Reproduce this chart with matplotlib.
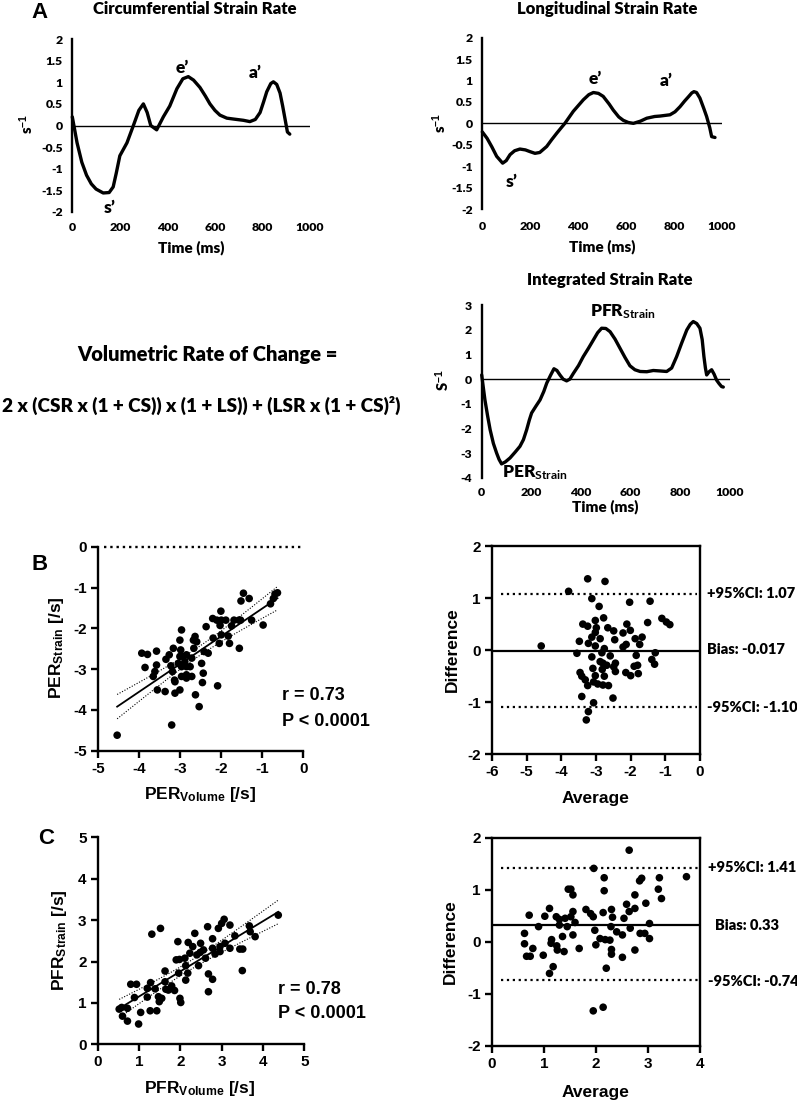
import numpy as np
import matplotlib
matplotlib.use('Agg')
import matplotlib.pyplot as plt

# ---------------- data ----------------
time_ticks = [0, 200, 400, 600, 800, 1000]

csr_t = [0, 10, 20, 40, 60, 80, 100, 130, 155, 172, 185, 200, 215, 230, 257, 280, 299, 315, 330, 355,
         383, 410, 440, 465, 488, 510, 537, 560, 579, 600, 621, 650, 677, 720, 747, 770, 790, 805, 818,
         835, 846, 860, 874, 885, 895, 905, 915]
csr_v = [0.2, -0.1, -0.4, -0.85, -1.15, -1.35, -1.47, -1.56, -1.55, -1.42, -1.1, -0.7, -0.55, -0.4, 0.0,
         0.35, 0.5, 0.3, 0.0, -0.1, 0.2, 0.45, 0.85, 1.08, 1.13, 1.05, 0.88, 0.68, 0.5, 0.35, 0.24, 0.17,
         0.15, 0.12, 0.09, 0.14, 0.3, 0.55, 0.78, 0.97, 1.01, 0.95, 0.75, 0.45, 0.15, -0.15, -0.2]

lsr_t = [0, 20, 40, 60, 85, 100, 116, 135, 157, 180, 199, 220, 240, 269, 290, 311, 330, 345, 380, 422,
         445, 464, 485, 505, 530, 547, 570, 589, 610, 631, 660, 687, 720, 742, 784, 805, 826, 845, 861,
         875, 884, 895, 909, 925, 937, 950, 958, 972]
lsr_v = [-0.2, -0.35, -0.55, -0.77, -0.93, -0.87, -0.73, -0.64, -0.6, -0.62, -0.66, -0.7, -0.68, -0.54,
         -0.38, -0.23, -0.1, 0.0, 0.28, 0.55, 0.67, 0.72, 0.7, 0.63, 0.45, 0.31, 0.15, 0.07, 0.02, 0.0,
         0.05, 0.12, 0.16, 0.17, 0.2, 0.27, 0.39, 0.52, 0.62, 0.71, 0.74, 0.72, 0.59, 0.35, 0.16, -0.1,
         -0.31, -0.33]

isr_t = [0, 6, 13, 24, 34, 47, 60, 70, 80, 95, 114, 135, 154, 168, 181, 192, 201, 218, 235, 250, 262,
         277, 291, 303, 315, 328, 342, 355, 369, 390, 409, 430, 450, 467, 483, 500, 517, 537, 557, 577,
         597, 617, 638, 665, 691, 720, 745, 765, 785, 805, 826, 840, 852, 866, 879, 888, 895, 901, 906,
         916, 926, 936, 946, 956, 966, 973]
isr_v = [0.17, -0.3, -0.84, -1.5, -2.05, -2.6, -2.99, -3.25, -3.43, -3.35, -3.19, -2.95, -2.72, -2.45,
         -2.05, -1.65, -1.37, -1.1, -0.84, -0.5, -0.16, 0.15, 0.42, 0.35, 0.17, 0.0, -0.07, 0.0, 0.23,
         0.55, 0.91, 1.25, 1.59, 1.88, 2.06, 2.05, 1.92, 1.62, 1.25, 0.88, 0.54, 0.38, 0.31, 0.3, 0.35,
         0.33, 0.31, 0.45, 0.91, 1.45, 1.99, 2.22, 2.33, 2.25, 2.06, 1.6, 0.91, 0.45, 0.17, 0.3, 0.38,
         0.2, -0.04, -0.18, -0.3, -0.32]

per_vol = [-3.94, -3.80, -3.86, -3.58, -3.58, -3.62, -3.66, -3.56, -3.37, -3.35, -3.27, -3.23, -3.17,
           -3.19, -3.13, -3.13, -3.01, -2.97, -3.01, -2.99, -3.01, -3.05, -2.93, -2.85, -2.89, -2.85,
           -2.97, -2.97, -2.85, -2.85, -2.72, -2.76, -2.72, -2.67, -2.68, -2.64, -2.60, -2.48, -2.44,
           -2.46, -2.42, -2.37, -2.32, -2.20, -2.09, -2.63, -2.54, -2.21, -2.11, -2.01, -2.00, -1.89,
           -2.03, -2.00, -2.05, -1.83, -1.80, -1.75, -1.69, -1.57, -1.56, -1.53, -1.46, -1.52, -1.32,
           -1.26, -0.98, -0.80, -0.73, -0.69, -0.63, -3.21, -4.54, -3.14]
per_str = [-2.61, -2.64, -2.96, -2.56, -2.90, -3.06, -3.18, -3.51, -3.55, -2.76, -2.65, -2.92, -2.49,
           -3.06, -3.31, -3.59, -3.51, -2.04, -2.29, -2.53, -2.69, -2.86, -2.69, -2.65, -2.82, -2.94,
           -2.94, -3.18, -3.14, -3.22, -3.18, -2.94, -2.73, -2.49, -2.29, -2.20, -2.33, -2.86, -3.10,
           -3.33, -2.57, -1.96, -2.61, -2.24, -3.41, -3.63, -3.92, -1.76, -1.80, -1.58, -1.80, -1.80,
           -1.93, -2.16, -2.37, -2.19, -2.37, -1.94, -1.80, -1.80, -2.49, -1.80, -1.14, -1.33, -1.27,
           -1.80, -1.92, -1.40, -1.27, -1.16, -1.13, -4.37, -4.62, -3.27]

per_avg = [-4.58, -3.79, -3.24, -2.74, -3.12, -2.91, -2.03, -1.44, -1.10, -0.97, -0.87, -1.51, -2.78,
           -3.38, -3.24, -2.99, -3.02, -2.66, -2.49, -2.11, -2.01, -2.22, -2.46, -2.88, -3.48, -3.22,
           -3.02, -2.76, -2.22, -2.13, -1.87, -1.74, -1.67, -3.55, -2.83, -3.12, -2.59, -1.84, -1.29,
           -1.39, -1.31, -2.88, -2.80, -2.69, -2.44, -2.49, -1.90, -1.80, -3.09, -2.82, -2.44, -2.14,
           -2.00, -1.78, -3.46, -3.41, -3.31, -3.24, -3.02, -3.07, -2.95, -2.80, -2.64, -2.76, -3.41,
           -2.51, -3.07, -3.22, -3.28, -3.02, -3.12]
per_diff = [0.08, 1.13, 1.37, 1.32, 0.99, 0.84, 0.92, 0.94, 0.61, 0.54, 0.49, 0.53, 0.62, 0.50, 0.46,
            0.43, 0.34, 0.43, 0.37, 0.50, 0.38, 0.33, 0.20, 0.22, 0.17, 0.13, 0.08, 0.03, 0.06, 0.11,
            0.22, 0.11, 0.25, -0.06, -0.05, -0.13, -0.11, -0.10, -0.05, -0.18, -0.27, -0.22, -0.25,
            -0.29, -0.25, -0.32, -0.31, -0.29, -0.35, -0.37, -0.41, -0.43, -0.49, -0.45, -0.43, -0.50,
            -0.57, -0.68, -0.49, -0.61, -0.65, -0.67, -0.68, -0.50, -0.89, -0.92, -1.01, -1.18, -1.34,
            0.57, 0.25]

pfr_vol = [0.52, 0.60, 0.72, 0.72, 0.58, 0.80, 0.94, 0.89, 0.99, 1.04, 1.20, 1.20, 1.28, 1.31, 1.52,
           1.27, 1.43, 1.39, 1.47, 1.49, 1.55, 1.63, 1.63, 1.71, 1.79, 1.65, 1.86, 1.94, 1.98, 1.99,
           2.01, 2.11, 2.13, 2.13, 2.19, 2.18, 2.23, 2.30, 2.35, 2.40, 2.44, 2.49, 2.56, 2.61, 2.66,
           2.68, 2.68, 2.78, 2.78, 2.78, 2.92, 3.00, 3.06, 2.96, 2.96, 3.08, 3.20, 3.20, 3.32, 3.44,
           3.51, 3.50, 3.67, 3.69, 3.81, 4.37, 1.90, 1.96, 2.48, 2.84]
pfr_str = [0.85, 0.68, 0.56, 0.87, 0.89, 1.45, 1.45, 1.13, 0.49, 0.77, 1.14, 1.35, 1.49, 2.66, 2.80,
           0.81, 0.81, 1.34, 1.15, 1.03, 1.11, 1.77, 1.51, 1.31, 1.41, 1.33, 1.30, 2.48, 2.05, 1.11,
           1.01, 2.08, 1.90, 1.55, 2.46, 1.72, 2.20, 2.36, 2.68, 2.16, 1.90, 2.44, 2.28, 2.08, 2.84,
           1.70, 1.27, 1.57, 2.55, 2.32, 2.80, 2.92, 3.02, 2.36, 2.24, 2.44, 2.88, 2.32, 2.62, 2.30,
           2.30, 1.78, 2.86, 2.72, 2.60, 3.12, 2.04, 1.72, 2.22, 2.18]

pfr_avg = [0.63, 0.63, 0.72, 0.67, 0.74, 0.79, 0.90, 0.99, 1.02, 1.11, 1.11, 1.18, 1.15, 1.14, 1.24,
           1.25, 1.26, 1.30, 1.30, 1.36, 1.39, 1.41, 1.45, 1.47, 1.52, 1.56, 1.52, 1.56, 1.56, 1.60,
           1.68, 1.81, 1.90, 1.95, 1.96, 1.98, 2.00, 1.95, 2.08, 2.14, 2.16, 2.16, 2.18, 2.20, 2.14,
           2.27, 2.29, 2.30, 2.32, 2.30, 2.30, 2.40, 2.51, 2.51, 2.54, 2.59, 2.64, 2.64, 2.66, 2.75,
           2.75, 2.75, 2.84, 2.88, 2.85, 2.94, 2.96, 3.03, 3.03, 3.20, 3.22, 3.26, 3.74]
pfr_diff = [0.16, -0.04, 0.51, -0.28, -0.28, -0.13, 0.29, -0.26, 0.49, 0.64, -0.61, -0.48, 0.04, -0.03,
            0.48, -0.08, -0.16, 0.43, 0.32, 0.10, -0.19, 0.45, 0.29, 1.01, 1.01, 0.90, 0.48, 0.58, 0.13,
            0.37, -0.13, 0.62, 0.54, 0.48, 1.41, 0.22, -0.06, -1.33, 0.06, 0.56, 0.98, 1.23, 0.04,
            -0.51, -1.26, 0.03, 0.29, 0.62, 0.47, -0.15, -0.24, 0.19, 0.13, -0.30, 0.45, 0.72, 1.76,
            0.58, 0.26, 0.64, 0.90, -0.16, 1.17, 1.22, 0.16, 0.16, 0.74, 0.35, 0.06, 1.01, 1.23, 0.83,
            1.25]

per_stats = {'r': '0.73', 'p': '0.0001', 'bias': -0.017, 'hi': 1.07, 'lo': -1.10}
pfr_stats = {'r': '0.78', 'p': '0.0001', 'bias': 0.33, 'hi': 1.41, 'lo': -0.74}

# ---------------- setup ----------------
W, H = 797, 1101
plt.rcParams.update({
    'font.family': ['Liberation Sans', 'DejaVu Sans'],
    'font.weight': 'bold',
    'axes.unicode_minus': False,
    'mathtext.fontset': 'custom',
    'mathtext.rm': 'Liberation Sans:bold',
    'mathtext.bf': 'Liberation Sans:bold',
    'mathtext.it': 'Lato:bold',
    'mathtext.default': 'rm',
})
fig = plt.figure(figsize=(W / 100, H / 100), dpi=100)
EX = ['Lato', 'DejaVu Sans']
TK = 8.8      # excel tick size
TT = 12       # excel title size


def rect(l, t, r, b):
    return [l / W, 1 - b / H, (r - l) / W, (b - t) / H]


def ftxt(x, y, s, **kw):
    kw.setdefault('ha', 'center')
    kw.setdefault('va', 'center')
    fig.text(x / W, 1 - y / H, s, **kw)


def excel_axes(r, ylim, yticks, t, v, xpad, ypad):
    ax = fig.add_axes(r)
    ax.plot(t, v, color='black', lw=2.4, solid_joinstyle='round', solid_capstyle='round', clip_on=False,
            zorder=3)
    ax.axhline(0, color='black', lw=1.0, zorder=2)
    ax.set_xlim(0, 1000)
    ax.set_ylim(*ylim)
    for s in ['top', 'right', 'bottom']:
        ax.spines[s].set_visible(False)
    ax.spines['left'].set_linewidth(1.7)
    ax.set_xticks(time_ticks)
    ax.set_xticklabels([str(x) for x in time_ticks], fontfamily=EX, fontweight='heavy', fontsize=TK)
    ax.set_yticks(yticks)
    ax.set_yticklabels(['%g' % y for y in yticks], fontfamily=EX, fontweight='heavy', fontsize=TK)
    ax.tick_params(axis='x', length=0, pad=xpad)
    ax.tick_params(axis='y', length=0, pad=ypad)
    ax.patch.set_visible(False)
    return ax


LK = dict(fontfamily=EX, fontweight='heavy', fontsize=12.5, ha='center', va='center')

# Panel A: circumferential
ax1 = excel_axes(rect(72.3, 39, 310, 212), (-2, 2), [-2, -1.5, -1, -0.5, 0, 0.5, 1, 1.5, 2],
                 csr_t, csr_v, 7.5, 7)
ax1.text(158, -1.9, 's\u2019', **LK)
ax1.text(464, 1.34, 'e\u2019', **LK)
ax1.text(768, 1.22, 'a\u2019', **LK)
ftxt(195, 9, 'Circumferential Strain Rate', fontfamily=EX, fontweight='heavy', fontsize=TT)
ftxt(27, 124, 's$^{\\mathit{-1}}$', fontfamily=EX, fontweight='heavy', fontsize=10.5, rotation=90)
ftxt(191, 248, 'Time (ms)', fontfamily=EX, fontweight='heavy', fontsize=11)

# Panel A: longitudinal
ax2 = excel_axes(rect(482.3, 37.7, 721.7, 209), (-2, 2), [-2, -1.5, -1, -0.5, 0, 0.5, 1, 1.5, 2],
                 lsr_t, lsr_v, 9, 7)
ax2.text(123, -1.36, 's\u2019', **LK)
ax2.text(470, 1.03, 'e\u2019', **LK)
ax2.text(770, 0.99, 'a\u2019', **LK)
ftxt(607, 9, 'Longitudinal Strain Rate', fontfamily=EX, fontweight='heavy', fontsize=TT)
ftxt(440, 123, 's$^{\\mathit{-1}}$', fontfamily=EX, fontweight='heavy', fontsize=10.5, rotation=90)
ftxt(602, 247, 'Time (ms)', fontfamily=EX, fontweight='heavy', fontsize=11)

# Panel A: integrated
ax3 = excel_axes(rect(481.7, 305, 730, 478), (-4, 3), [-4, -3, -2, -1, 0, 1, 2, 3],
                 isr_t, isr_v, 6.5, 7)
ax3.text(215, -3.8, 'PER$_{\\mathit{Strain}}$', **LK)
ax3.text(570, 2.73, 'PFR$_{\\mathit{Strain}}$', **LK)
ftxt(610, 280, 'Integrated Strain Rate', fontfamily=EX, fontweight='heavy', fontsize=TT)
ftxt(443, 380, 'S$^{\\mathit{-1}}$', fontfamily=EX, fontweight='heavy', fontsize=10.5, rotation=90)
ftxt(605, 507, 'Time (ms)', fontfamily=EX, fontweight='heavy', fontsize=11)

# formula
ftxt(207, 355, 'Volumetric Rate of Change =', fontfamily=EX, fontweight='heavy', fontsize=14.5)
ftxt(201, 405, '2 x (CSR x (1 + CS)) x (1 + LS)) + (LSR x (1 + CS)\u00b2)', fontfamily=EX,
     fontweight='heavy', fontsize=13.7)

# panel letters
ftxt(40, 12, 'A', fontsize=16)
ftxt(40, 564, 'B', fontsize=16)
ftxt(46, 838, 'C', fontsize=16)


def prism_axes(r, xlim, ylim, xticks, yticks, box):
    ax = fig.add_axes(r)
    ax.set_xlim(*xlim)
    ax.set_ylim(*ylim)
    ax.set_xticks(xticks)
    ax.set_yticks(yticks)
    ax.set_xticklabels(['%g' % x for x in xticks])
    ax.set_yticklabels(['%g' % y for y in yticks])
    for s in ax.spines.values():
        s.set_linewidth(1.7)
    if not box:
        ax.spines['top'].set_visible(False)
        ax.spines['right'].set_visible(False)
    ax.tick_params(direction='out', length=5, width=1.7, labelsize=11, pad=3)
    ax.patch.set_visible(False)
    return ax


def scatter_reg(ax, x, y):
    x = np.asarray(x)
    y = np.asarray(y)
    ax.scatter(x, y, s=30, color='black', edgecolors='none', clip_on=False, zorder=4)
    b, a = np.polyfit(x, y, 1)
    n = len(x)
    xs = np.linspace(x.min(), x.max(), 50)
    yhat = a + b * xs
    resid = y - (a + b * x)
    se = np.sqrt(np.sum(resid ** 2) / (n - 2))
    sxx = np.sum((x - x.mean()) ** 2)
    half = 1.99 * se * np.sqrt(1.0 / n + (xs - x.mean()) ** 2 / sxx)
    ax.plot(xs, yhat, color='black', lw=1.3, zorder=3)
    ax.plot(xs, yhat + half, color='black', lw=0.8, ls=(0, (1, 1.5)), zorder=3)
    ax.plot(xs, yhat - half, color='black', lw=0.8, ls=(0, (1, 1.5)), zorder=3)


BA = dict(fontfamily=EX, fontweight='heavy', fontsize=10.5, ha='left')

# Panel B scatter
axb = prism_axes(rect(98.3, 546.7, 303.3, 750.7), (-5, 0), (-5, 0), [-5, -4, -3, -2, -1, 0],
                 [-5, -4, -3, -2, -1, 0], False)
axb.axhline(0, xmin=0.03, xmax=1, color='black', lw=1.7, ls=':', clip_on=False)
scatter_reg(axb, per_vol, per_str)
ftxt(282, 695, 'r = ' + per_stats['r'], fontsize=13, ha='left')
ftxt(282, 722, 'P < ' + per_stats['p'], fontsize=13, ha='left')
ftxt(56, 648, 'PER$_{\\mathrm{Strain}}$ [/s]', fontsize=12.5, rotation=90)
ftxt(200, 794, 'PER$_{\\mathrm{Volume}}$ [/s]', fontsize=12.5)

# Panel B Bland-Altman
axbb = prism_axes(rect(492, 546, 700, 754.3), (-6, 0), (-2, 2), [-6, -5, -4, -3, -2, -1, 0],
                  [-2, -1, 0, 1, 2], True)
axbb.scatter(per_avg, per_diff, s=30, color='black', edgecolors='none', clip_on=False, zorder=4)
axbb.axhline(per_stats['bias'], color='black', lw=1.6)
axbb.axhline(per_stats['hi'], xmin=0.045, xmax=0.985, color='black', lw=1.6, ls=':')
axbb.axhline(per_stats['lo'], xmin=0.045, xmax=0.985, color='black', lw=1.6, ls=':')
ftxt(707, 594, '+95%%CI: %.2f' % per_stats['hi'], **BA)
ftxt(707, 650, 'Bias: %.3f' % per_stats['bias'], **BA)
ftxt(707, 707, '-95%%CI: %.2f' % per_stats['lo'], **BA)
ftxt(452, 650, 'Difference', fontsize=12.5, rotation=90)
ftxt(596, 798, 'Average', fontsize=12.5)

# Panel C scatter
axc = prism_axes(rect(97.7, 837.3, 304.3, 1044.3), (0, 5), (0, 5), [0, 1, 2, 3, 4, 5],
                 [0, 1, 2, 3, 4, 5], False)
scatter_reg(axc, pfr_vol, pfr_str)
ftxt(278, 990, 'r = ' + pfr_stats['r'], fontsize=13, ha='left')
ftxt(278, 1014, 'P < ' + pfr_stats['p'], fontsize=13, ha='left')
ftxt(60, 940, 'PFR$_{\\mathrm{Strain}}$ [/s]', fontsize=12.5, rotation=90)
ftxt(200, 1089, 'PFR$_{\\mathrm{Volume}}$ [/s]', fontsize=12.5)

# Panel C Bland-Altman
axcb = prism_axes(rect(491.7, 837.7, 700, 1045.7), (0, 4), (-2, 2), [0, 1, 2, 3, 4],
                  [-2, -1, 0, 1, 2], True)
axcb.scatter(pfr_avg, pfr_diff, s=30, color='black', edgecolors='none', clip_on=False, zorder=4)
axcb.axhline(pfr_stats['bias'], color='black', lw=1.6)
axcb.axhline(pfr_stats['hi'], xmin=0.045, xmax=0.99, color='black', lw=1.6, ls=':')
axcb.axhline(pfr_stats['lo'], xmin=0.045, xmax=0.99, color='black', lw=1.6, ls=':')
ftxt(708, 868, '+95%%CI: %.2f' % pfr_stats['hi'], **BA)
ftxt(715, 925, 'Bias: %.2f' % pfr_stats['bias'], **BA)
ftxt(708, 981, '-95%%CI: %.2f' % pfr_stats['lo'], **BA)
ftxt(450, 942, 'Difference', fontsize=12.5, rotation=90)
ftxt(596, 1092, 'Average', fontsize=12.5)

fig.savefig('out.png', dpi=100)
